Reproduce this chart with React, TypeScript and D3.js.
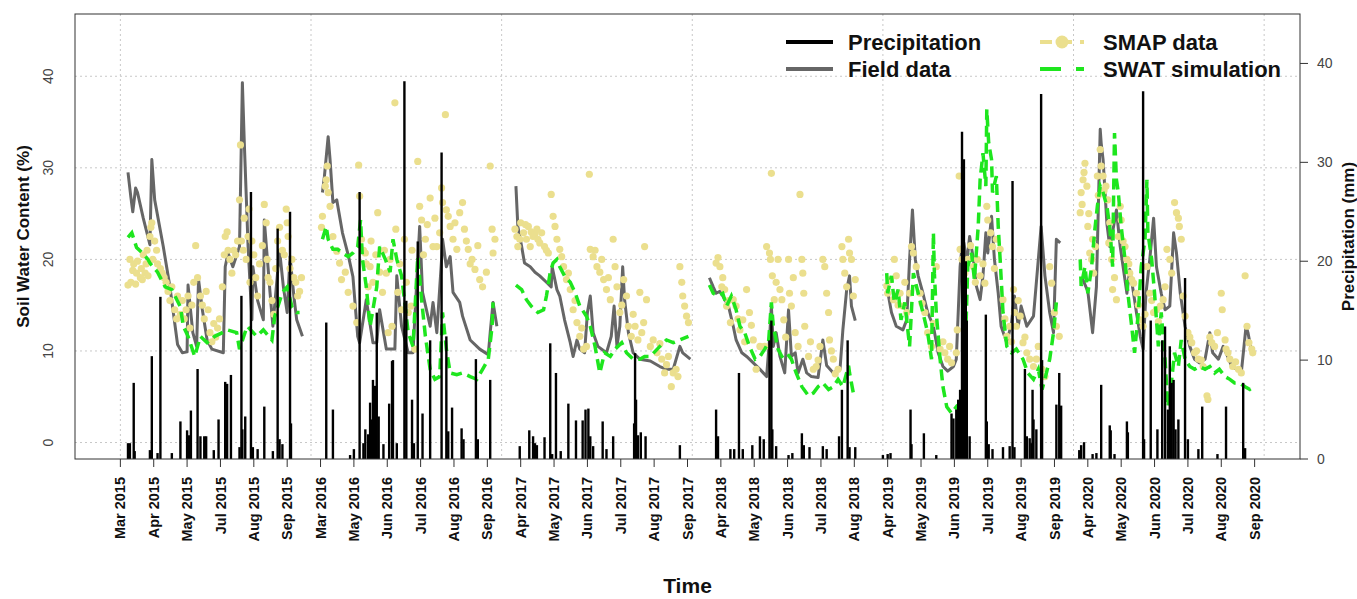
import React from "react";
import * as d3 from "d3";

// x values are day index of the concatenated growing seasons
const xTickLabels = ["Mar 2015","Apr 2015","May 2015","Jul 2015","Aug 2015","Sep 2015","Mar 2016","May 2016","Jun 2016","Jul 2016","Aug 2016","Sep 2016","Apr 2017","May 2017","Jun 2017","Jul 2017","Aug 2017","Sep 2017","Apr 2018","May 2018","Jun 2018","Jul 2018","Aug 2018","Apr 2019","May 2019","Jun 2019","Jul 2019","Aug 2019","Sep 2019","Apr 2020","May 2020","Jun 2020","Jul 2020","Aug 2020","Sep 2020"];
const tickStep = 35;
const soilTicks = [0, 10, 20, 30, 40];
const precipTicks = [0, 10, 20, 30, 40];
const gridDays = [0, 200, 400, 600, 800, 1000, 1200];

type P = [number, number];

const field2015: P[] = [[8,29.5],[11,26.8],[13,25.2],[16,27.8],[18,27.3],[24,24.5],[31,21.6],[33,30.9],[36,26.5],[45,21.4],[52,17],[60,10.7],[65,9.8],[70,9.9],[71,17.2],[76,12],[80,10.5],[82,17.8],[86,14.5],[91,11.2],[96,10.2],[108,9.8],[110,19.2],[113,20.7],[118,19.2],[125,21.4],[128,39.3],[130,32.8],[134,21.4],[138,13.4],[139,19.2],[144,15.5],[150,13.4],[151,24.3],[157,16.4],[160,12.7],[167,21],[171,17],[175,14.2],[178,20.3],[182,16],[185,13.4],[191,11.6]];
const field2016: P[] = [[212,27.3],[214,29],[218,33.4],[220,30.9],[223,26.2],[227,26.5],[233,22.9],[239,20.5],[244,18.1],[249,11.6],[251,10.9],[258,15.6],[265,10.9],[269,10.9],[272,14.5],[279,10.2],[288,10.2],[290,18.2],[295,12.7],[302,9.8],[307,9.8],[314,23.6],[317,16.4],[325,12.7],[328,15.3],[332,12],[337,20],[338,22.2],[342,19.2],[346,20.3],[349,16.4],[356,15.3],[359,13.8],[367,11.2],[377,10.2],[386,9.6],[388,12],[391,15.3],[395,12.7]];
const field2017: P[] = [[415,28],[417,23.6],[421,21.4],[424,19.6],[430,19.2],[435,18.6],[440,18.2],[447,17.5],[452,17],[453,19.2],[458,16.7],[461,16],[466,13.4],[472,10.9],[475,9.4],[479,11.2],[482,10.2],[487,9.8],[490,14.2],[493,16],[496,12],[501,10.5],[510,9.8],[515,11.6],[518,14.9],[521,10.5],[524,12.7],[527,19.2],[529,15.6],[533,12],[538,9.8],[545,9.1],[556,8.9],[566,8.3],[573,8],[580,8],[587,10.5],[590,9.8],[598,9.1]];
const field2018: P[] = [[618,18],[622,17],[625,16.3],[629,16.5],[632,16],[638,14.9],[643,12.7],[646,11.2],[652,9.8],[657,9.4],[664,8.7],[671,8],[678,7.2],[681,11.2],[683,14.9],[685,10.5],[688,12],[692,9.4],[697,7.6],[701,14.5],[704,9.4],[708,9.8],[711,7.6],[716,9.1],[720,7.6],[725,7.2],[732,7.1],[737,11.2],[741,8.4],[748,7.6],[755,8],[758,12.3],[762,16.7],[765,18.2],[767,14.9],[771,13.3]];
const field2019: P[] = [[804,17.1],[809,14.2],[814,12.7],[821,12.3],[825,13.4],[828,20],[831,25.4],[834,20],[837,18.2],[842,16.3],[847,14.2],[853,12.7],[858,9.8],[863,8.3],[868,7.8],[874,8.3],[877,9.1],[881,19.2],[883,21.4],[885,21.8],[888,19.6],[891,22.5],[895,20],[898,17.1],[902,15.6],[905,18.2],[908,22.9],[910,20.7],[914,24.7],[917,20],[921,16.3],[924,12.7],[930,10.9],[935,13.1],[938,16],[942,12.7],[945,14.9],[951,12.7],[958,13.8],[966,23.6],[970,18.2],[975,14.2],[979,12],[982,22.2],[986,21.8]];
const field2020: P[] = [[1009,18],[1015,16.5],[1020,12],[1024,17],[1028,34.2],[1029,32.7],[1031,30.9],[1035,23.9],[1038,21.4],[1042,23.6],[1045,25.4],[1049,21.4],[1052,19.2],[1056,16.3],[1059,18.9],[1063,16.3],[1066,14.2],[1070,11.6],[1073,10.2],[1076,16.3],[1080,20],[1084,24.5],[1087,19.2],[1092,16.3],[1096,14.5],[1101,14.9],[1105,22.9],[1108,20.7],[1112,16.3],[1117,12.7],[1122,10.5],[1127,9.1],[1132,8.7],[1138,9.1],[1143,12],[1146,9.8],[1152,9.1],[1157,10.5],[1160,9.8],[1166,8.3],[1171,8],[1176,7.6],[1181,12.7],[1183,12],[1187,9.8]];

const swat2015: P[] = [[8,22.4],[12,22.9],[17,21.3],[23,20.7],[29,20],[31,19.6],[39,18.6],[47,17],[54,16.7],[63,14.8],[66,12.7],[71,11.6],[78,9.4],[84,11.6],[91,10.9],[99,11.6],[107,12],[112,12.3],[122,12],[125,10.2],[133,12.7],[143,11.6],[150,12.3],[159,11.2],[162,13.8],[170,16.4],[175,17],[180,14.8],[185,14.2],[188,14.2]];
const swat2016: P[] = [[212,22.2],[216,23.6],[218,22.2],[223,21.1],[228,21.1],[233,20.7],[239,20.3],[244,20.7],[249,21.4],[252,24.3],[254,20],[258,17],[262,12.7],[269,17],[272,21.4],[278,20],[283,18.6],[286,22.2],[290,20],[295,18.2],[298,15.6],[302,12],[307,10.5],[312,20.3],[316,15.6],[320,11.6],[325,8],[330,6.9],[335,7.2],[338,14.2],[342,10.2],[346,7.6],[353,7.4],[359,7.6],[367,7.2],[374,6.9],[380,8],[386,9.1],[390,12.7],[391,15.3]];
const swat2017: P[] = [[415,17.2],[421,16.7],[426,15.6],[431,14.9],[438,14.2],[444,14.5],[447,16],[451,18.6],[454,19.6],[458,20],[461,19.2],[466,18.2],[472,17.5],[477,16.4],[482,14.9],[489,13.8],[493,12.7],[498,10.5],[503,7.6],[508,9.8],[514,9.4],[519,10.2],[526,10.9],[531,9.8],[538,9.1],[545,9.1],[550,9.4],[556,9.4],[566,10.5],[573,11.2],[580,10.9],[587,11.2],[596,11.6]];
const swat2018: P[] = [[618,17.2],[622,16.3],[627,16],[632,16.3],[636,14.9],[641,16],[646,14.5],[650,12.7],[655,12],[660,10.5],[666,9.1],[671,9.4],[676,10.2],[680,10.9],[683,15.3],[685,12.7],[690,10.2],[694,9.4],[699,9.8],[704,9.1],[709,7.6],[715,6.1],[722,5.1],[727,5.4],[732,6.1],[737,6.5],[743,5.8],[748,6.1],[753,6.9],[758,6.1],[764,8.4],[765,7.6],[769,5.4]];
const swat2019: P[] = [[804,18.5],[805,16.3],[809,18.2],[812,15.3],[816,16.7],[819,13.4],[823,15.3],[828,10.5],[832,18.5],[837,16.3],[842,14.2],[847,12],[851,9.1],[853,22.9],[854,18.5],[856,14.2],[860,9.1],[863,6.1],[867,3.9],[872,3.2],[877,3.9],[881,3.2],[884,3.6],[887,12],[889,19.2],[893,20.7],[896,17.8],[900,23.6],[902,28.7],[905,31.6],[908,28],[909,36.4],[911,32.7],[914,30.9],[915,27.3],[919,29.1],[921,23.6],[923,20],[926,14.2],[930,10.5],[935,9.8],[940,10.2],[947,9.1],[952,7.6],[958,6.9],[963,8],[967,5.8],[970,6.9],[975,9.1],[979,12],[982,15.3]];
const swat2020: P[] = [[1007,20],[1008,17.1],[1012,19.2],[1015,16.3],[1019,19.2],[1022,22.9],[1025,25.8],[1028,28],[1031,27.3],[1035,25.8],[1038,23.6],[1041,19.2],[1043,33.8],[1045,28.7],[1047,27.3],[1050,23.6],[1054,20],[1057,16.3],[1061,12.7],[1064,9.8],[1068,14.2],[1071,19.2],[1075,22.2],[1077,28.7],[1078,22.9],[1082,20],[1085,16.3],[1089,10.5],[1092,14.2],[1096,9.1],[1099,3.9],[1103,6.9],[1106,9.8],[1110,8.3],[1113,11.2],[1117,9.1],[1122,8.3],[1127,8],[1132,8.3],[1138,8],[1143,8.3],[1148,7.6],[1153,8],[1159,7.2],[1164,6.9],[1169,6.5],[1174,6.5],[1180,6.1],[1185,5.8],[1188,6]];

const smap2015: P[] = [[8,17.2],[10,20],[11,17.5],[13,18.8],[14,19.5],[16,17.3],[17,18.5],[18,19.8],[21,18],[22,19],[23,17.8],[24,20.5],[26,18.5],[27,19.5],[28,21],[29,18.2],[31,22.5],[32,23.5],[33,24],[34,20],[36,22],[38,21],[39,19.5],[42,19],[44,18.5],[46,18],[48,17.5],[50,16.5],[52,15.5],[54,17],[57,14.5],[59,13.5],[60,16],[63,14],[65,15.5],[67,13.5],[69,14.5],[71,16],[73,12.5],[75,15],[77,17.5],[79,21.5],[81,18],[84,16],[86,15],[88,13.5],[90,16.5],[92,14.5],[94,12],[96,11],[98,13],[100,11.5],[102,12.5],[104,13.5],[107,17],[109,20.5],[110,22.5],[112,23],[113,21],[115,20],[117,18.5],[119,21],[121,20.5],[123,22],[125,26.5],[126,32.5],[127,22],[129,21],[130,24.5],[132,20],[134,22.5],[135,25.5],[136,17.5],[138,22],[140,20.5],[142,18],[144,16],[146,19.5],[149,21.5],[151,26],[153,24],[154,20],[155,18],[157,17.5],[159,15.5],[161,14],[163,19],[165,22],[167,23.5],[170,21],[172,20.5],[174,25.5],[175,24],[176,22.5],[178,19],[180,20],[182,18],[184,17.5],[186,16],[188,16.5],[190,18]];
const smap2016: P[] = [[211,23.5],[212,24.7],[215,28],[216,28.7],[217,30.2],[218,27.3],[220,25.8],[223,22.5],[227,20.9],[230,19.6],[232,17.8],[236,18.6],[239,16.4],[244,14.9],[248,13.1],[250,30.3],[251,26.9],[253,22.2],[255,21],[257,20.7],[258,19.5],[260,17],[262,19.2],[263,22],[265,17.5],[268,20.5],[270,25.1],[272,18.6],[275,16.4],[277,21],[279,18.5],[281,12],[283,20],[285,12.7],[288,37.1],[289,23.3],[291,16.4],[293,19.5],[295,14.5],[298,22.2],[300,17.5],[302,14.2],[305,14.9],[306,21],[309,10.2],[312,30.7],[314,25.8],[316,24.3],[318,20.5],[320,22.2],[322,23.8],[325,26.7],[328,21.4],[330,24.5],[332,21.4],[335,22.9],[337,27.8],[338,26.2],[341,35.8],[342,25.4],[344,24.7],[346,23.6],[349,22.2],[351,24],[353,21.1],[356,25.1],[359,26.2],[361,23.3],[363,22],[365,21.1],[367,19.5],[369,20],[372,18.9],[375,21.5],[377,17.8],[380,17],[384,18.6],[388,30.2],[390,23.3],[391,20.7],[393,22.2]];
const smap2017: P[] = [[414,23.3],[416,22.5],[417,21.4],[419,22.2],[420,24],[423,22.9],[425,23.8],[426,22.2],[428,23.6],[430,21.4],[431,23],[433,22.5],[435,22.8],[437,23.3],[438,22.2],[440,21.8],[442,22.9],[445,21.4],[447,21],[449,20.7],[452,27.1],[454,24.7],[456,23.6],[458,22.2],[461,21.1],[463,20.3],[465,19.2],[468,17.8],[470,18.5],[472,16.7],[475,14.5],[477,15.5],[479,13.1],[482,11.6],[484,12.5],[486,10.2],[489,10.5],[492,29.3],[493,21.1],[496,20.3],[498,21],[500,19.2],[503,18.6],[505,20],[507,17.8],[510,16.7],[512,18],[514,15.6],[517,22.2],[519,19.2],[521,17],[524,14.2],[526,15],[528,17.8],[531,16],[533,12.7],[536,11.6],[538,14],[540,12.7],[543,11.2],[545,16.4],[547,12],[549,13.1],[550,21.4],[552,15.6],[556,10.5],[559,11.2],[563,9.8],[566,10.8],[568,9.1],[571,7.6],[573,8.5],[575,9.4],[578,6.1],[580,7.6],[583,8],[585,7.2],[587,19.2],[589,17.5],[590,16],[592,14.9],[594,13.8],[596,13.1]];
const smap2018: P[] = [[625,19.6],[627,20.2],[629,19.2],[631,17],[632,18],[634,16.7],[636,14.9],[638,15.5],[640,13.1],[643,15.6],[646,14.9],[648,13.5],[650,12.3],[653,13.4],[655,11],[657,16.7],[660,14.2],[662,12.8],[664,11.2],[667,8],[671,10.5],[676,10.5],[678,21.4],[681,20.7],[682,20],[683,29.4],[684,18.2],[686,15.6],[688,17.5],[690,20],[692,16.7],[694,15.6],[696,13.4],[698,11.5],[701,20],[702,16.3],[704,14.9],[706,18],[708,12],[711,10.5],[713,27.1],[715,20],[716,18.5],[717,16.3],[718,12.7],[722,9.4],[724,11],[727,8],[730,8.3],[732,9],[734,10.5],[737,20],[739,19.2],[741,16.3],[743,14.2],[744,11.2],[746,10],[748,9.1],[750,7.5],[753,8],[757,21.4],[758,20],[760,18.5],[762,17],[764,22.2],[765,20.7],[767,20],[769,16],[771,17.8]];
const smap2019: P[] = [[804,17.1],[805,16.3],[808,17.8],[811,15.6],[812,20],[814,18.2],[816,15],[818,16.3],[821,14.9],[823,17.5],[825,14.2],[828,16.3],[830,21.4],[832,20.7],[835,19.2],[839,16.3],[841,15.2],[844,14.2],[847,12],[851,10.5],[853,13],[856,19.2],[860,10.2],[863,11],[865,9.8],[868,9.1],[870,10.5],[872,8.7],[877,9.8],[878,12.3],[880,29.1],[881,21.1],[883,20],[886,18.5],[889,20],[892,21.5],[895,19.2],[897,17.5],[899,20],[902,18.2],[905,19.5],[907,17.4],[909,25.8],[910,24.3],[913,22.9],[915,21.4],[917,19],[919,22.2],[923,21.1],[926,15.6],[928,13.5],[930,11.6],[933,12.7],[935,11],[937,16.7],[938,14.2],[940,12.7],[942,15.5],[944,13.8],[947,10.9],[949,11.5],[951,9.8],[954,9.1],[958,8.3],[961,9.1],[963,10.5],[967,8],[970,7.2],[975,19.2],[977,17.4],[980,14.2],[982,12.7],[985,11.6]];
const smap2020: P[] = [[1007,25.1],[1008,27.3],[1009,26],[1010,28.7],[1011,29.5],[1012,30.5],[1014,28],[1015,23.6],[1016,25],[1017,20.7],[1019,20],[1020,22.2],[1021,18.5],[1023,21.4],[1025,29.1],[1026,27],[1028,32],[1029,30.2],[1031,29.1],[1032,27.5],[1034,28],[1036,26.5],[1037,21.8],[1038,24],[1040,20],[1041,16.7],[1043,18],[1045,15.6],[1047,22.5],[1049,25.8],[1050,24.3],[1052,22],[1054,21.4],[1056,20],[1058,19.5],[1059,18.5],[1061,17.8],[1063,17.4],[1066,16.3],[1068,15],[1070,13.4],[1073,12.7],[1075,14],[1077,19.2],[1080,16.3],[1082,15.5],[1084,14.2],[1087,14.5],[1089,13.2],[1091,14.9],[1094,15.6],[1096,17],[1098,21.1],[1101,20],[1103,18.5],[1106,26.2],[1108,25.1],[1110,24.5],[1111,23.6],[1113,22.2],[1115,16],[1117,13.8],[1120,12],[1122,11.5],[1124,10.9],[1127,9.8],[1129,10],[1131,9.1],[1134,9],[1136,8.3],[1140,5.1],[1141,4.7],[1143,11.5],[1145,10.9],[1148,10.5],[1151,12],[1155,16.3],[1156,14.5],[1159,11.2],[1160,10.2],[1162,9.8],[1164,9.1],[1167,8.3],[1170,8.8],[1173,8],[1176,7.6],[1180,18.2],[1182,12.7],[1184,10.9],[1187,10.2],[1188,9.8]];

const precip2015: P[] = [[8,1.6],[10,1.6],[14,7.7],[15,0.8],[31,0.9],[33,10.4],[39,0.6],[42,16.4],[54,0.6],[63,3.8],[70,2.9],[72,2.4],[74,4.9],[81,9.1],[84,2.3],[88,2.3],[90,2.3],[98,0.9],[103,4],[110,7.8],[112,7.6],[116,8.5],[125,1.2],[127,16.5],[128,3],[131,4.3],[137,27],[139,1.2],[144,1],[151,5.3],[160,0.8],[165,23.3],[167,2],[170,1.5],[178,25],[179,3.6]];
const precip2016: P[] = [[216,13.8],[223,5],[241,0.4],[245,1],[251,27],[255,1.6],[257,3],[260,2.5],[262,5.7],[263,4],[265,8],[267,7.4],[269,14.8],[271,4.3],[276,1.5],[282,5.6],[285,9.9],[286,10],[290,1.6],[298,38.2],[300,16],[306,6],[308,1.6],[312,22],[317,4.6],[325,12],[337,31],[342,12.4],[344,2.8],[348,5.2],[358,3.1],[360,2],[373,10.1],[375,2],[388,8]];
const precip2017: P[] = [[419,1.3],[429,2.9],[433,2.3],[435,1.6],[437,1.4],[445,2.2],[451,11.7],[453,0.5],[457,8.7],[462,0.8],[470,5.6],[478,3.9],[485,3.9],[488,5],[491,5.1],[493,2.3],[496,1.3],[506,3.8],[510,1],[517,2.3],[539,3.6],[540,10.7],[541,6],[543,2.4],[546,2.7],[551,2.3],[587,1.4]];
const precip2018: P[] = [[625,5],[627,2.3],[640,1],[644,1],[649,8.7],[653,1],[663,1.4],[671,2.3],[675,2],[681,12],[683,14],[684,3],[688,1.3],[701,0.4],[705,0.6],[715,2.6],[717,1.4],[723,1.2],[737,1.3],[741,1],[754,2.3],[757,7],[763,12],[765,1.2],[771,1.2]];
const precip2019: P[] = [[800,0.4],[805,0.5],[808,0.6],[829,5],[830,1.5],[843,2.6],[856,0.4],[872,4.6],[874,4.1],[877,5],[879,6],[881,7],[883,33.1],[885,30.3],[887,20],[888,14],[891,2.3],[908,14.6],[909,3.8],[911,1.5],[915,1],[926,1.2],[933,1.3],[936,28.1],[938,1.2],[949,9.1],[951,2.3],[954,2.1],[956,1.6],[957,7],[958,4],[961,3],[966,36.9],[967,10],[982,5.5],[985,8.7],[987,5.4]];
const precip2020: P[] = [[1006,0.9],[1008,1.4],[1011,1.7],[1020,0.5],[1024,0.6],[1029,7.5],[1038,3.4],[1039,2.9],[1043,0.5],[1056,3.8],[1057,2.7],[1073,37.2],[1074,2],[1081,14],[1088,3],[1093,12],[1096,13.4],[1099,5],[1101,11.4],[1103,7.7],[1105,8],[1107,3],[1110,4],[1117,18.3],[1120,2],[1131,1],[1135,5.3],[1151,0.5],[1160,5.3],[1178,7.7],[1180,1.1]];

const fieldSeasons = [field2015, field2016, field2017, field2018, field2019, field2020];
const swatSeasons = [swat2015, swat2016, swat2017, swat2018, swat2019, swat2020];
const smapAll = [smap2015, smap2016, smap2017, smap2018, smap2019, smap2020].flat();
const precipAll = [precip2015, precip2016, precip2017, precip2018, precip2019, precip2020].flat();

const W = 1357, H = 599;
const left = 75, right = 1300, top = 14, bottom = 459;
const lastDay = (xTickLabels.length - 1) * tickStep;

const FIELD = "#666666";
const SWAT = "#1ee61e";
const SMAP = "#ebdf8e";
const FONT = "Liberation Sans, Arial, sans-serif";

export default function App() {
  const x = d3.scaleLinear().domain([-0.04 * lastDay, lastDay * 1.04]).range([left, right]);
  const ySoil = d3.scaleLinear().domain([-1.8, 46.8]).range([bottom, top]);
  const yPrec = d3.scaleLinear().domain([0, 45]).range([bottom, top]);

  const soilLine = d3.line<P>().x(d => x(d[0])).y(d => ySoil(d[1]));
  const tickDays = xTickLabels.map((_, i) => i * tickStep);

  return (
    <div style={{ position: "absolute", left: 0, top: 0 }}>
      <svg width={W} height={H} style={{ display: "block", background: "#fff" }} fontFamily={FONT}>
        <defs>
          <clipPath id="plotClip">
            <rect x={left} y={top} width={right - left} height={bottom - top} />
          </clipPath>
        </defs>

        {/* grid */}
        <g stroke="#c8c8c8" strokeWidth={1} strokeDasharray="2,3">
          {gridDays.map(g => (
            <line key={"gx" + g} x1={x(g)} x2={x(g)} y1={top} y2={bottom} />
          ))}
          {soilTicks.map(t => (
            <line key={"gy" + t} x1={left} x2={right} y1={ySoil(t)} y2={ySoil(t)} />
          ))}
        </g>

        <g clipPath="url(#plotClip)">
          {fieldSeasons.map((s, i) => (
            <path key={"f" + i} d={soilLine(s) || ""} fill="none" stroke={FIELD} strokeWidth={3} strokeLinejoin="round" />
          ))}
          {smapAll.map((d, i) => (
            <circle key={"s" + i} cx={x(d[0])} cy={ySoil(d[1])} r={3.6} fill={SMAP} />
          ))}
          {swatSeasons.map((s, i) => (
            <path key={"w" + i} d={soilLine(s) || ""} fill="none" stroke={SWAT} strokeWidth={3.5} strokeDasharray="11,6" />
          ))}
          {precipAll.map((d, i) => (
            <line key={"p" + i} x1={x(d[0])} x2={x(d[0])} y1={yPrec(0)} y2={yPrec(d[1])} stroke="#000" strokeWidth={2.4} />
          ))}
        </g>

        {/* frame */}
        <rect x={left} y={top} width={right - left} height={bottom - top} fill="none" stroke="#333" strokeWidth={1} />

        {/* left axis labels */}
        {soilTicks.map(t => (
          <text key={"ly" + t} transform={`translate(53,${ySoil(t)}) rotate(-90)`} textAnchor="middle" fontSize={14} fill="#444">{t}</text>
        ))}
        <text transform={`translate(29,${(top + bottom) / 2}) rotate(-90)`} textAnchor="middle" fontSize={17} fontWeight="bold" fill="#111">Soil Water Content (%)</text>

        {/* right axis */}
        {precipTicks.map(t => (
          <g key={"ry" + t}>
            <line x1={right} x2={right + 8} y1={yPrec(t)} y2={yPrec(t)} stroke="#333" />
            <text x={right + 17} y={yPrec(t)} dy="0.36em" fontSize={14} fill="#444">{t}</text>
          </g>
        ))}
        <text transform={`translate(1354,${(top + bottom) / 2}) rotate(-90)`} textAnchor="middle" fontSize={17} fontWeight="bold" fill="#111">Precipitation (mm)</text>

        {/* bottom axis */}
        {tickDays.map((d, i) => (
          <g key={"bx" + i}>
            <line x1={x(d)} x2={x(d)} y1={bottom} y2={bottom + 8} stroke="#333" />
            <text transform={`translate(${x(d)},${bottom + 18}) rotate(-90)`} textAnchor="end" dy="0.35em" fontSize={14.5} fontWeight="bold" fill="#111">{xTickLabels[i]}</text>
          </g>
        ))}
        <text x={(left + right) / 2} y={593} textAnchor="middle" fontSize={21} fontWeight="bold" fill="#111">Time</text>

        {/* legend */}
        <g fontSize={22} fontWeight="bold" fill="#111">
          <line x1={786} x2={833} y1={42} y2={42} stroke="#000" strokeWidth={4} />
          <text x={848} y={50}>Precipitation</text>
          <line x1={786} x2={833} y1={69} y2={69} stroke={FIELD} strokeWidth={4} />
          <text x={848} y={77}>Field data</text>
          <line x1={1040} x2={1084} y1={42} y2={42} stroke={SMAP} strokeWidth={4} strokeDasharray="12,8" />
          <circle cx={1062} cy={42} r={6.5} fill={SMAP} />
          <text x={1103} y={50}>SMAP data</text>
          <line x1={1040} x2={1084} y1={69} y2={69} stroke={SWAT} strokeWidth={4} strokeDasharray="21,15" />
          <text x={1103} y={77}>SWAT simulation</text>
        </g>
      </svg>
    </div>
  );
}
